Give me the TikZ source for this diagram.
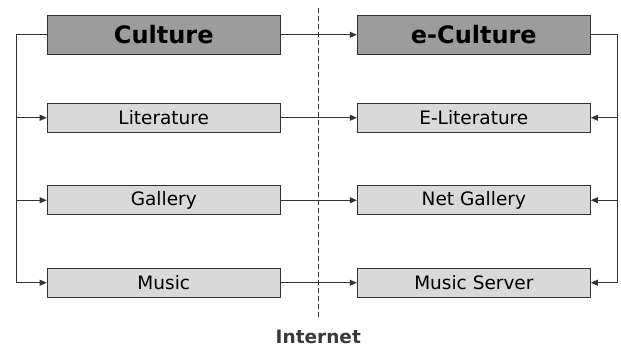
\documentclass[tikz,border=0pt]{standalone}
\usepackage{fontspec}
\setmainfont{DejaVu Sans}
\usetikzlibrary{arrows.meta}
\usetikzlibrary{positioning}
\usetikzlibrary{matrix}

\definecolor{headgray}{HTML}{9C9C9C}
\definecolor{boxgray}{HTML}{D9D9D9}
\definecolor{framegray}{HTML}{333333}
\definecolor{netgray}{HTML}{3A3A3A}

\tikzset{
  headbox/.style={draw=framegray, line width=1.1pt, fill=headgray,
    minimum width=233pt, minimum height=39pt,
    font=\fontsize{24}{24}\selectfont\bfseries},
  subbox/.style={draw=framegray, line width=1.1pt, fill=boxgray,
    minimum width=233pt, minimum height=29pt,
    font=\fontsize{18.5}{18.5}\selectfont},
  link/.style={draw=framegray, line width=0.8pt, -{Triangle[length=7pt,width=6pt]}},
}

\begin{document}
\begin{tikzpicture}
\useasboundingbox (0,0) rectangle (621pt,349pt);
\matrix [matrix of nodes, anchor=north west, inner sep=0pt,
column sep=76pt, row sep=52.4pt] at (46.5pt,334.5pt)
{
|[headbox](cul)|{Culture} & |[headbox](ecul)|{e-Culture} \\[-4.5pt]
|[subbox](lit)|{Literature} & |[subbox](elit)|{E-Literature} \\
|[subbox](gal)|{Gallery} & |[subbox](ngal)|{Net Gallery} \\
|[subbox](mus)|{Music} & |[subbox](msrv)|{Music Server} \\
};
% internet border
\coordinate (nettop) at (318.3pt,341pt);
\coordinate (netbot) at (318.3pt,31pt);
\draw[framegray, line width=0.8pt, dash pattern=on 5pt off 3pt] (nettop) -- (netbot);
\node[below=8pt of netbot, text=netgray, font=\fontsize{18.5}{18.5}\selectfont\bfseries] (inet) {Internet};
% side buses
\coordinate (lbus) at ([xshift=-30pt]cul.west);
\coordinate (rbus) at ([xshift=26pt]ecul.east);
\draw[link] (cul.west) -- (lbus) |- (mus.west);
\draw[link] (lbus |- lit.west) -- (lit.west);
\draw[link] (lbus |- gal.west) -- (gal.west);
\draw[link] (ecul.east) -- (rbus) |- (msrv.east);
\draw[link] (rbus |- elit.east) -- (elit.east);
\draw[link] (rbus |- ngal.east) -- (ngal.east);
% across the net
\foreach \a/\b in {cul/ecul, lit/elit, gal/ngal, mus/msrv}
  \draw[link] (\a.east) -- (\b.west);
\end{tikzpicture}
\end{document}
